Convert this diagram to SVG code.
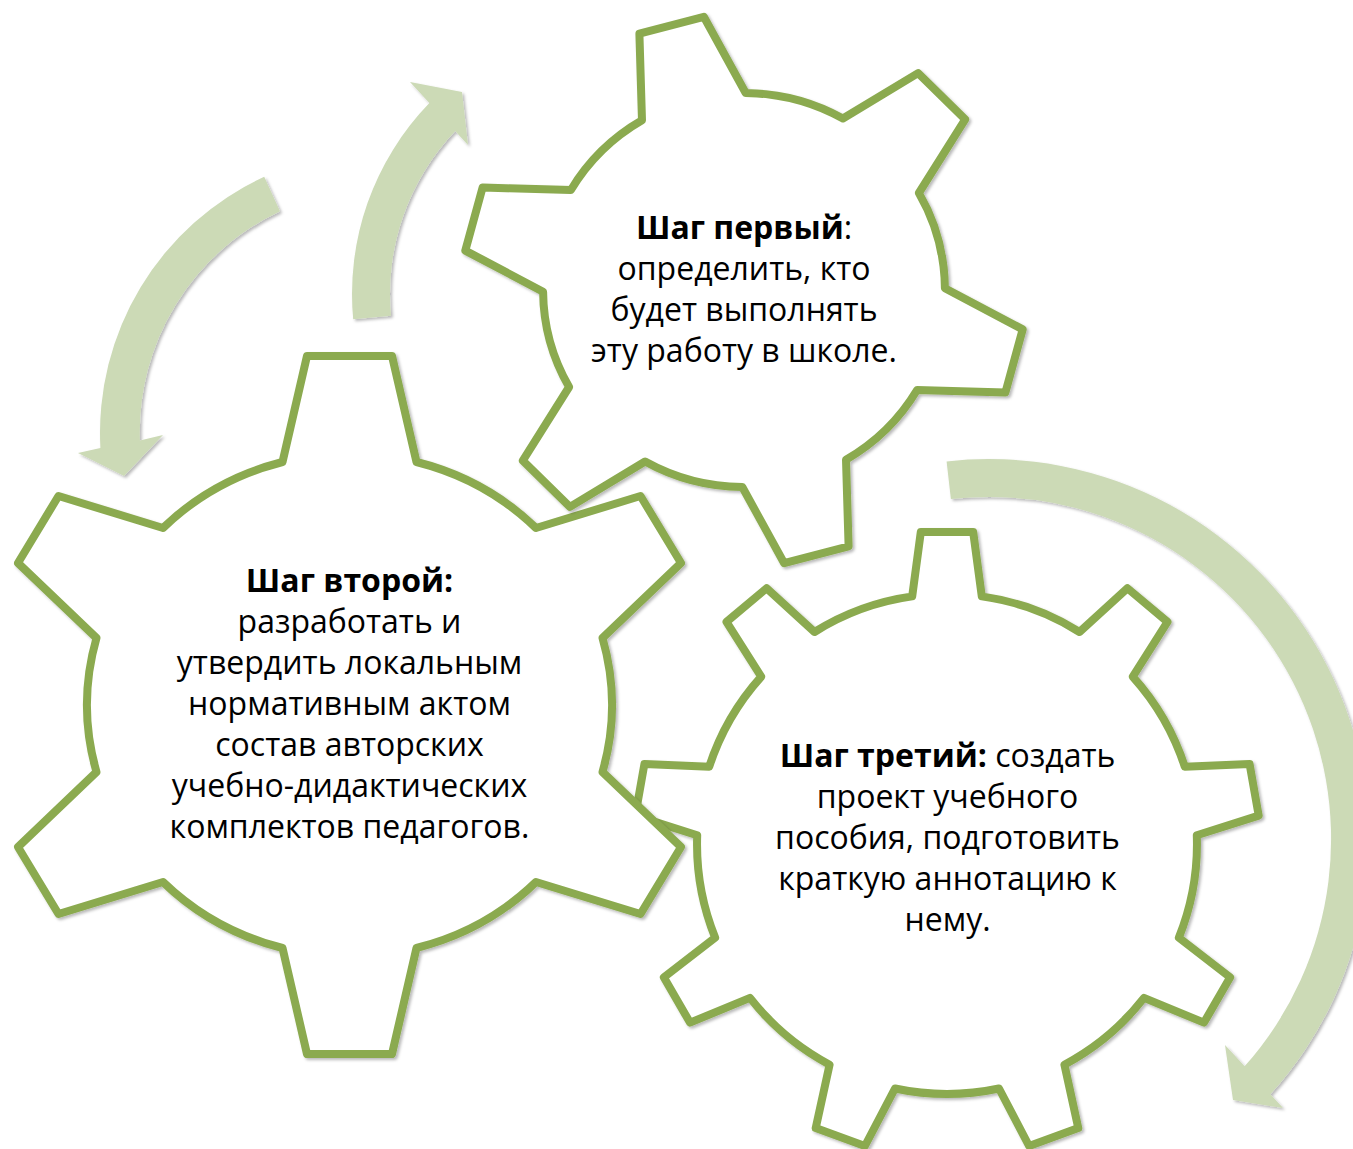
<svg xmlns="http://www.w3.org/2000/svg" width="1353" height="1149" viewBox="0 0 1353 1149">
<defs>
<filter id="sh" x="-10%" y="-10%" width="120%" height="120%">
<feDropShadow dx="2" dy="2" stdDeviation="1.5" flood-color="#000" flood-opacity="0.28"/>
</filter>
<style>
.gear{fill:#fff;stroke:#8BAA50;stroke-width:8;stroke-linejoin:round;filter:url(#sh)}
.arrow{fill:#CCDAB6;filter:url(#sh)}
.t{font-family:"Open Sans","Noto Sans",sans-serif;font-size:32px;fill:#000;text-anchor:middle}
.b{font-weight:bold}
</style>
</defs>
<rect width="1353" height="1149" fill="#fff"/>
<g id="connectors">
<path class="arrow" d="M264.2,176.8 A282 282 0 0 0 100.4,448 L78,453 L124,476 L163,435 L139.9,440.5 A244 244 0 0 1 280,211.3 Z"/>
<path class="arrow" d="M353.2,319.3 A274 274 0 0 1 429.4,103.1 L410,82 L462,92 L468,145 L455.2,131.1 A236 236 0 0 0 391,315.8 Z"/>
<path class="arrow" d="M946.6,461.4 A380 380 0 0 1 1270.4,1094.3 L1283,1108 L1233,1100 L1225,1045 L1244.6,1066.3 A342 342 0 0 0 950.9,499.1 Z"/>
</g>
<g id="gear3">
<path class="gear" d="M912.2,596.4 L920.8,532.1 L973.2,532.1 L981.8,596.4 A250 250 0 0 1 1079.5,632.0 L1127.4,588.2 L1167.5,621.9 L1132.8,676.7 A250 250 0 0 1 1184.8,766.7 L1249.6,764.1 L1258.7,815.6 L1196.8,835.3 A250 250 0 0 1 1178.8,937.7 L1230.2,977.3 L1204.0,1022.6 L1144.0,997.9 A250 250 0 0 1 1064.4,1064.7 L1078.3,1128.1 L1029.1,1146.0 L999.0,1088.5 A250 250 0 0 1 895.0,1088.5 L864.9,1146.0 L815.7,1128.1 L829.6,1064.7 A250 250 0 0 1 750.0,997.9 L690.0,1022.6 L663.8,977.3 L715.2,937.7 A250 250 0 0 1 697.2,835.3 L635.3,815.6 L644.4,764.1 L709.2,766.7 A250 250 0 0 1 761.2,676.7 L726.5,621.9 L766.6,588.2 L814.5,632.0 A250 250 0 0 1 912.2,596.4 Z"/>
<text class="t" x="947.5" y="767"><tspan class="b">Шаг третий:</tspan> создать</text>
<text class="t" x="947.5" y="808">проект учебного</text>
<text class="t" x="947.5" y="849">пособия, подготовить</text>
<text class="t" x="947.5" y="890">краткую аннотацию к</text>
<text class="t" x="947.5" y="931">нему.</text>
</g>
<g id="gear2">
<path class="gear" d="M282.5,462 L307,356 L392,356 L416.5,462 A262 252 0 0 1 536,528 L640.5,496 L681,563 L602.5,638 A262 252 0 0 1 602.5,772 L681,847 L640.5,914 L536,882 A262 252 0 0 1 416.5,948 L392,1054 L307,1054 L282.5,948 A262 252 0 0 1 163,882 L58.5,914 L18,847 L96.5,772 A262 252 0 0 1 96.5,638 L18,563 L58.5,496 L163,528 A262 252 0 0 1 282.5,462 Z"/>
<text class="t b" x="349.5" y="592">Шаг второй:</text>
<text class="t" x="349.5" y="633">разработать и</text>
<text class="t" x="349.5" y="674">утвердить локальным</text>
<text class="t" x="349.5" y="715">нормативным актом</text>
<text class="t" x="349.5" y="756">состав авторских</text>
<text class="t" x="349.5" y="797">учебно-дидактических</text>
<text class="t" x="349.5" y="838">комплектов педагогов.</text>
</g>
<g id="gear1">
<path class="gear" d="M642.0,120.3 L639.4,33.7 L703.8,16.8 L745.7,93.0 A201 197 0 0 1 842.9,118.5 L918.1,73.1 L965.2,119.3 L918.9,193.0 A201 197 0 0 1 944.9,288.3 L1022.7,329.4 L1005.4,392.5 L917.1,390.0 A201 197 0 0 1 846.0,459.7 L848.6,546.3 L784.2,563.2 L742.3,487.0 A201 197 0 0 1 645.1,461.5 L569.9,506.9 L522.8,460.7 L569.1,387.0 A201 197 0 0 1 543.1,291.7 L465.3,250.6 L482.6,187.5 L570.9,190.0 A201 197 0 0 1 642.0,120.3 Z"/>
<text class="t" x="744" y="239"><tspan class="b">Шаг первый</tspan>:</text>
<text class="t" x="744" y="280">определить, кто</text>
<text class="t" x="744" y="321">будет выполнять</text>
<text class="t" x="744" y="362">эту работу в школе.</text>
</g>
</svg>
